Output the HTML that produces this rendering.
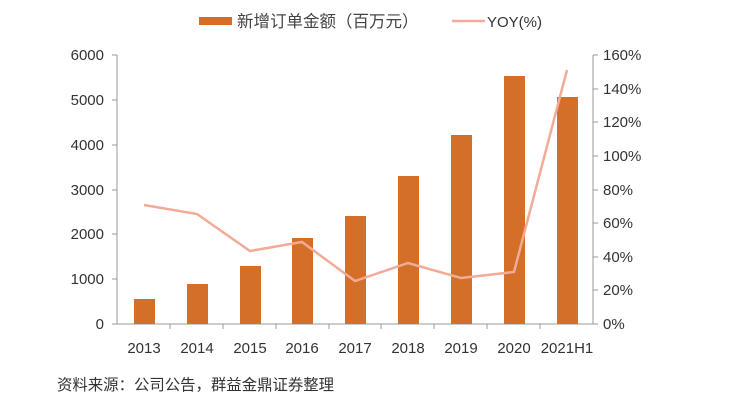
<!DOCTYPE html>
<html><head><meta charset="utf-8"><style>body{margin:0;background:#fff}svg{display:block}</style></head><body>
<svg width="741" height="401" xmlns="http://www.w3.org/2000/svg" font-family="Liberation Sans, Noto Sans CJK SC, sans-serif">
<rect width="741" height="401" fill="#fff"/>
<rect x="199" y="17" width="33" height="8" fill="#d46f2a"/>
<text x="237" y="27" font-size="16.5" fill="#444">新增订单金额（百万元）</text>
<line x1="452" y1="21" x2="485" y2="21" stroke="#f2ab96" stroke-width="2.5"/>
<text x="487" y="27" font-size="15" fill="#333">YOY(%)</text>
<g stroke="#999" stroke-width="1">
<line x1="117" y1="55" x2="117" y2="324"/><line x1="593" y1="55" x2="593" y2="324"/><line x1="117" y1="324" x2="593" y2="324"/>
<line x1="112" y1="55" x2="117" y2="55"/><line x1="112" y1="100" x2="117" y2="100"/><line x1="112" y1="145" x2="117" y2="145"/><line x1="112" y1="190" x2="117" y2="190"/><line x1="112" y1="234" x2="117" y2="234"/><line x1="112" y1="279" x2="117" y2="279"/><line x1="112" y1="324" x2="117" y2="324"/>
<line x1="593" y1="55" x2="598" y2="55"/><line x1="593" y1="89" x2="598" y2="89"/><line x1="593" y1="122" x2="598" y2="122"/><line x1="593" y1="156" x2="598" y2="156"/><line x1="593" y1="190" x2="598" y2="190"/><line x1="593" y1="223" x2="598" y2="223"/><line x1="593" y1="257" x2="598" y2="257"/><line x1="593" y1="290" x2="598" y2="290"/><line x1="593" y1="324" x2="598" y2="324"/>
<line x1="170" y1="324" x2="170" y2="329"/><line x1="223" y1="324" x2="223" y2="329"/><line x1="276" y1="324" x2="276" y2="329"/><line x1="329" y1="324" x2="329" y2="329"/><line x1="381" y1="324" x2="381" y2="329"/><line x1="434" y1="324" x2="434" y2="329"/><line x1="487" y1="324" x2="487" y2="329"/><line x1="540" y1="324" x2="540" y2="329"/>
</g>
<g font-size="15" fill="#333" text-anchor="end">
<text x="104" y="60">6000</text><text x="104" y="105">5000</text><text x="104" y="150">4000</text><text x="104" y="195">3000</text><text x="104" y="239">2000</text><text x="104" y="284">1000</text><text x="104" y="329">0</text>
</g>
<g font-size="15" fill="#333" text-anchor="start">
<text x="603" y="60">160%</text><text x="603" y="94">140%</text><text x="603" y="127">120%</text><text x="603" y="161">100%</text><text x="603" y="195">80%</text><text x="603" y="228">60%</text><text x="603" y="262">40%</text><text x="603" y="295">20%</text><text x="603" y="329">0%</text>
</g>
<g fill="#d46f2a">
<rect x="134" y="299" width="21" height="25"/>
<rect x="187" y="284" width="21" height="40"/>
<rect x="240" y="266" width="21" height="58"/>
<rect x="292" y="238" width="21" height="86"/>
<rect x="345" y="216" width="21" height="108"/>
<rect x="398" y="176" width="21" height="148"/>
<rect x="451" y="135" width="21" height="189"/>
<rect x="504" y="76" width="21" height="248"/>
<rect x="557" y="97" width="21" height="227"/>
</g>
<polyline fill="none" stroke="#f2ab96" stroke-width="2.5" points="144,205 197,214 250,251 302,242 355,281 408,263 461,278 514,272 567,70"/>
<g font-size="15" fill="#333" text-anchor="middle">
<text x="144" y="353">2013</text><text x="197" y="353">2014</text><text x="250" y="353">2015</text><text x="302" y="353">2016</text><text x="355" y="353">2017</text><text x="408" y="353">2018</text><text x="461" y="353">2019</text><text x="514" y="353">2020</text><text x="567" y="353">2021H1</text>
</g>
<text x="57" y="390" font-size="15.4" fill="#333">资料来源：公司公告，群益金鼎证券整理</text>
</svg>
</body></html>
